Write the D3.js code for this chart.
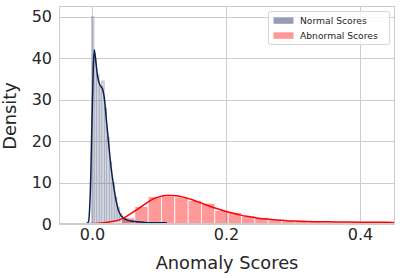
<!DOCTYPE html>
<html>
<head>
<meta charset="utf-8">
<script src="https://cdn.jsdelivr.net/npm/d3@7"></script>
<style>
  html,body{margin:0;padding:0;background:#fff}
  svg{display:block}
</style>
</head>
<body>
<div id="chart"></div>
<script>
// anomaly score densities — normal vs abnormal (hist + kde)

// normal scores histogram (narrow bins)
var normalBinStart=-0.0015, normalBinWidth=0.0038;
var normalHeights=[50,40,36,33,34.5,28,21,15,10,6.5,4,2.5,1.5,1.1,0.8,0.6,0.5,0.4,0.3,0.3,0.2,0.2,0.2,0.15];

// abnormal scores histogram (wide bins)
var abnBinStart=0.0035, abnBinWidth=0.0199;
var abnHeights=[0.1,0.4,1.5,4.2,6.6,6.7,6.5,5.7,5.0,3.3,2.8,1.9,1.5,1.0,0.7,0.6,0.55,0.5,0.45,0.45,0.4,0.4,0.35];

// kde curves, [x, density]
var normalKdeX=[-0.031,-0.02,-0.01,-0.006,-0.0045,-0.0025,-0.0012,0.0012,0.0027,0.0052,0.0077,0.0112,0.0147,0.0177,0.0212,0.0246,0.0276,0.031,0.035,0.0385,0.0436,0.051,0.058,0.066,0.076,0.086,0.1,0.111];
var normalKdeY=[0,0,0.05,0.5,3,12,21.9,37.9,42,38.8,35.5,33.5,32.7,30.3,24.3,18.6,13.8,9.8,5.8,3.4,1.8,1.0,0.7,0.55,0.4,0.3,0.3,0.3];

var abnKdeX=[-0.031,-0.01,0,0.01,0.02,0.03,0.04,0.05,0.06,0.07,0.08,0.09,0.10,0.11,0.12,0.13,0.14,0.15,0.16,0.17,0.18,0.19,0.20,0.21,0.22,0.23,0.24,0.25,0.26,0.27,0.28,0.29,0.30,0.32,0.34,0.36,0.38,0.40,0.42,0.44,0.46];
var abnKdeY=[0.02,0.06,0.1,0.2,0.35,0.6,1.0,1.8,2.8,3.9,5.0,6.0,6.6,6.9,6.9,6.7,6.3,5.8,5.2,4.6,4.0,3.5,3.0,2.6,2.2,1.85,1.6,1.35,1.2,1.05,0.92,0.8,0.72,0.6,0.55,0.5,0.48,0.45,0.42,0.4,0.38];

var xTicks=[0.0,0.2,0.4];
var yTicks=[0,10,20,30,40,50];
var legendLabels=['Normal Scores','Abnormal Scores'];

var W=400,H=278;
var L=59,R=395,T=6,B=224;
var F='"DejaVu Sans",sans-serif';
var C={grid:'#cccccc',text:'#262626',navy:'#0b1f4f',red:'#ff0000',
  normFill:'rgba(0,12,67,0.18)',normEdge:'#a7adc0',abnFill:'rgba(255,0,0,0.4)',
  normPatch:'#969eb4',abnPatch:'#ff9999'};

var svg=d3.select('#chart').append('svg').attr('width',W).attr('height',H);
var x=d3.scaleLinear().domain([-0.05,0.4515]).range([L,R]);
var y=d3.scaleLinear().domain([0,52.58]).range([B,T]);

svg.append('defs').append('clipPath').attr('id','plot').append('rect')
  .attr('x',L).attr('y',T).attr('width',R-L).attr('height',B-T);

// grid
svg.append('g').selectAll('line').data(yTicks).join('line')
  .attr('x1',L).attr('x2',R).attr('y1',function(d){return Math.round(y(d))+0.5}).attr('y2',function(d){return Math.round(y(d))+0.5})
  .attr('stroke',C.grid).attr('stroke-width',1);
svg.append('g').selectAll('line').data(xTicks).join('line')
  .attr('y1',T).attr('y2',B).attr('x1',function(d){return Math.round(x(d))+0.5}).attr('x2',function(d){return Math.round(x(d))+0.5})
  .attr('stroke',C.grid).attr('stroke-width',1);

var plot=svg.append('g').attr('clip-path','url(#plot)');

// normal bars
plot.append('g').selectAll('rect').data(normalHeights).join('rect')
  .attr('x',function(d,i){return x(normalBinStart+i*normalBinWidth)})
  .attr('width',function(d,i){return x(normalBinStart+(i+1)*normalBinWidth)-x(normalBinStart+i*normalBinWidth)})
  .attr('y',function(d){return y(d)}).attr('height',function(d){return y(0)-y(d)})
  .attr('fill',C.normFill).attr('stroke',C.normEdge).attr('stroke-width',0.5);

// abnormal bars
plot.append('g').selectAll('rect').data(abnHeights).join('rect')
  .attr('x',function(d,i){return x(abnBinStart+i*abnBinWidth)})
  .attr('width',function(d,i){return x(abnBinStart+(i+1)*abnBinWidth)-x(abnBinStart+i*abnBinWidth)})
  .attr('y',function(d){return y(d)}).attr('height',function(d){return y(0)-y(d)})
  .attr('fill',C.abnFill).attr('stroke','#fff').attr('stroke-width',0.8);

var line=d3.line().x(function(d){return x(d[0])}).y(function(d){return y(d[1])}).curve(d3.curveMonotoneX);
plot.append('path').datum(d3.zip(normalKdeX,normalKdeY)).attr('d',line)
  .attr('fill','none').attr('stroke',C.navy).attr('stroke-width',1.5);
plot.append('path').datum(d3.zip(abnKdeX,abnKdeY)).attr('d',line)
  .attr('fill','none').attr('stroke',C.red).attr('stroke-width',1.5);

// frame
svg.append('rect').attr('x',L+0.5).attr('y',T+0.5).attr('width',R-L-1).attr('height',B-T-1)
  .attr('fill','none').attr('stroke',C.grid).attr('stroke-width',1);

// tick labels
svg.append('g').selectAll('text').data(yTicks).join('text')
  .attr('x',L-7).attr('y',function(d){return y(d)+5.8}).attr('text-anchor','end')
  .attr('font-family',F).attr('font-size',16).attr('fill',C.text).text(function(d){return d});
svg.append('g').selectAll('text').data(xTicks).join('text')
  .attr('x',function(d){return x(d)}).attr('y',240).attr('text-anchor','middle')
  .attr('font-family',F).attr('font-size',16).attr('fill',C.text).text(function(d){return d3.format('.1f')(d)});

// axis labels
svg.append('text').attr('x',(L+R)/2).attr('y',269).attr('text-anchor','middle')
  .attr('font-family',F).attr('font-size',17.8).attr('fill',C.text).text('Anomaly Scores');
svg.append('text').attr('transform','translate(16,'+((T+B)/2+1)+') rotate(-90)').attr('text-anchor','middle')
  .attr('font-family',F).attr('font-size',17.8).attr('fill',C.text).text('Density');

// legend
var lg=svg.append('g');
lg.append('rect').attr('x',268.5).attr('y',11.5).attr('width',121).attr('height',33).attr('rx',2.5)
  .attr('fill','rgba(255,255,255,0.8)').attr('stroke','#d6d6d6').attr('stroke-width',1);
[C.normPatch,C.abnPatch].forEach(function(c,i){
  lg.append('rect').attr('x',273.5).attr('y',17.3+i*15).attr('width',20).attr('height',6.5).attr('fill',c);
  lg.append('text').attr('x',300).attr('y',23.8+i*15).attr('font-family',F).attr('font-size',9.2)
    .attr('fill',C.text).text(legendLabels[i]);
});
</script>
</body>
</html>
